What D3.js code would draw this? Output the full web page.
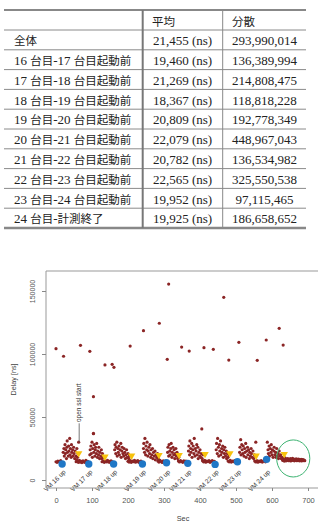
<!DOCTYPE html>
<html>
<head>
<meta charset="utf-8">
<script src="https://cdn.jsdelivr.net/npm/d3@7"></script>
<style>
  body { margin: 0; background: #fff; }
  text { white-space: pre; }
</style>
</head>
<body>
<script>
// table values
const colHeads = ["平均", "分散"];
const rowLabels = ["全体", "16 台目-17 台目起動前", "17 台目-18 台目起動前", "18 台目-19 台目起動前",
    "19 台目-20 台目起動前", "20 台目-21 台目起動前", "21 台目-22 台目起動前", "22 台目-23 台目起動前",
    "23 台目-24 台目起動前", "24 台目-計測終了"];
const means = [21455, 19460, 21269, 18367, 20809, 22079, 20782, 22565, 19952, 19925];
const variances = [293990014, 136389994, 214808475, 118818228, 192778349, 448967043,
    136534982, 325550538, 97115465, 186658652];

// chart values: [sec, delay in thousands of ns]
const baseline = [[0,14.5],[3,14],[5,15],[8,14.6],[11,14.2],[13,15.3],
    [56,14.5],[59,15],[62,14],[65,15.5],[67,14.2],[70,14.8],[72,13.8],[75,15.2],[77,14.5],[80,14],[83,15.5],[85,14.3],[88,14.8],
    [128,14.5],[131,15.2],[134,14],[137,15],[140,14.4],[143,15.6],[146,14.2],[148,14.9],[151,13.9],[153,15.1],[156,14.5],[158,14],
    [200,14.8],[203,14.2],[206,15.4],[209,14],[212,15],[215,14.5],[218,15.6],[221,14.1],[224,14.8],[227,15.3],[230,14],[233,14.6],[236,15],
    [283,15],[286,14.2],[289,15.5],[292,14.6],[295,13.9],[298,15.2],[301,14.4],[304,15],
    [340,15],[343,14.3],[346,15.4],[349,14.7],[352,14],[355,15.2],[358,14.5],[361,15],[364,14.2],
    [407,15.2],[410,14.4],[413,15.6],[416,14.1],[419,15],[422,14.6],[425,15.4],[428,14],[431,14.8],[434,15.3],[437,14.3],[440,14.9],
    [478,15],[481,14.4],[484,15.5],[487,14.2],[490,15],[493,14.6],[496,15.3],[499,14],[502,14.8],
    [552,15],[555,14.3],[558,15.4],[561,14.1],[564,15],[567,14.6],[570,15.3],[573,14.2],[576,14.9],[579,15.5],[582,14.4]];
const bursts = [[20,22],[22,25],[23,19],[25,28],[26,21],[27,24],[29,17],[30,26],[31,31],[32,22],[34,19],[35,27],[36,23],[38,33],[39,20],[40,25],[42,18],[43,28],[44,22],[46,24],[47,19],[49,26],[50,21],[52,17],[53,23],[55,19],[57,16],[58,25],[60,18],[61,21],[63,30],
    [94,20],[95,24],[97,27],[98,21],[100,30],[101,18],[102,25],[104,37],[105,22],[106,28],[108,19],[109,24],[110,26],[112,21],[113,29],[115,18],[116,23],[118,20],[119,26],[121,17],[122,22],[124,19],[126,24],[127,17],[129,21],[131,18],
    [163,24],[164,28],[166,21],[167,26],[169,30],[170,19],[172,25],[173,22],[175,27],[176,20],[178,24],[180,29],[181,18],[183,23],[184,26],[186,21],[188,19],[189,25],[191,22],[193,17],[194,20],[196,24],[198,18],[200,21],[202,17],[204,19],
    [243,25],[244,29],[246,22],[247,33],[249,20],[250,27],[252,24],[253,30],[255,19],[256,23],[258,26],[260,21],[261,28],[263,18],[264,24],[266,20],[268,25],[269,17],[271,22],[273,19],[275,23],[276,16],[278,20],[280,18],[282,21],[284,17],
    [310,22],[311,26],[313,19],[314,28],[316,23],[317,20],[319,25],[320,29],[322,18],[323,22],[325,26],[327,20],[328,24],[330,17],[331,21],[333,25],[334,19],[336,22],[338,17],[339,20],[341,18],
    [368,23],[369,27],[371,20],[372,31],[374,25],[375,22],[377,29],[378,18],[380,24],[381,27],[383,21],[384,33],[386,19],[387,25],[389,23],[391,28],[392,20],[394,26],[395,17],[397,22],[399,19],[400,24],[402,18],[404,21],[406,17],[408,20],
    [445,24],[446,29],[448,21],[449,33],[451,26],[452,19],[454,28],[455,23],[457,31],[458,20],[460,25],[461,22],[463,27],[465,18],[466,24],[468,21],[469,26],[471,19],[473,23],[474,17],[476,21],[478,18],[480,20],
    [510,22],[511,26],[513,32],[514,20],[516,28],[517,24],[519,21],[520,27],[522,19],[524,25],[525,22],[527,29],[528,18],[530,23],[532,26],[533,20],[535,24],[537,17],[538,22],[540,19],[542,25],[543,21],[545,18],[547,23],[549,17],[551,20],[553,19],[555,30],
    [587,30],[589,24],[590,21],[592,27],[593,19],[595,25],[597,22],[598,28],[600,20],[601,24],[603,18],[605,23],[606,26],[608,20],[610,22],[611,18],[613,25],[615,19],[617,21],[618,17],[620,23],[622,19],[624,20],[626,17],[628,18],[630,16]];
const tail = [[628,17],[630,15.5],[632,16.5],[634,15],[636,17.5],[637,16],[639,15.2],[641,16.8],[642,15.6],[644,17],[646,15.3],[647,16.4],[649,15.8],[651,16.9],[652,15.1],[654,16.2],[656,15.5],[657,17.2],[659,15.9],[661,16.5],[662,15.2],[664,16.1],[666,15.6],[667,16.8],[669,15.3],[671,16.3],[672,15.7],[674,16.6],[676,15.2],[677,16],[679,15.5],[681,16.4],[682,15.1],[684,15.9],[686,16.2],[687,15.4],[689,15.8],[691,15.3]];
const outliers = [[0,104.2],[21,98.2],[68,106.9],[94,102.1],[104,66.1],[104,36.7],[136,91.3],[156,91.8],[161,89.4],[206,106.3],[243,118.5],[287,124.4],
    [313,155.5],[309,95.8],[349,105.5],[370,102.3],[405,40.5],[411,105],[437,103.7],[466,145],[480,95.2],[508,109.3],[559,95],[584,111.1],[620,120.4],[631,107.1]];

const vmUp = [17, 91, 160, 240, 307, 366, 442, 504, 585];
const vmUpDelay = [12.7, 12.7, 12.7, 12.7, 13.7, 13.2, 12.4, 14.5, 16.4];
const vmLabels = ["VM 16 up", "VM 17 up", "VM 18 up", "VM 19 up", "VM 20 up", "VM 21 up", "VM 22 up", "VM 23 up", "VM 24 up"];
const sslStart = [63, 136, 210, 286, 342, 414, 483, 556, 634];
const sslDelay = [21.2, 18.5, 19.3, 19.8, 19.8, 20.6, 21.2, 19.3, 20.6];

const xTicks = [0, 100, 200, 300, 400, 500, 600, 700];
const yTicks = [0, 50000, 100000, 150000];

const svg = d3.select("body").append("svg")
    .attr("width", 318).attr("height", 521);

// ---------- table ----------
const isCJK = s => /[\u3000-\u9fff]/.test(s);
function mixedText(sel, str) {
    str.split(/([\u3000-\u9fff]+)/).filter(s => s).forEach(s => {
        sel.append("tspan")
            .attr("font-family", isCJK(s) ? "'Noto Sans CJK JP'" : "'Liberation Serif'")
            .attr("font-size", isCJK(s) ? "11.5px" : "13px")
            .text(s);
    });
}

const tTop = 10, headH = 20, rowH = 19.8;
const tLeft = 4, tRight = 306, col1 = 142.7, col2 = 222.7;
const tBottom = tTop + headH + rowH * rowLabels.length;
const table = svg.append("g").attr("fill", "#222");

table.append("line").attr("x1", tLeft).attr("x2", tRight).attr("y1", tTop).attr("y2", tTop)
    .attr("stroke", "#888").attr("stroke-width", 2);
table.append("line").attr("x1", tLeft).attr("x2", tRight).attr("y1", tBottom).attr("y2", tBottom)
    .attr("stroke", "#888").attr("stroke-width", 2.4);
rowLabels.forEach((r, i) => {
    const yy = tTop + headH + rowH * i;
    table.append("line").attr("x1", tLeft).attr("x2", tRight).attr("y1", yy).attr("y2", yy)
        .attr("stroke", "#8a8a8a").attr("stroke-width", 1);
});
table.append("line").attr("x1", col1).attr("x2", col1).attr("y1", tTop).attr("y2", tBottom)
    .attr("stroke", "#777").attr("stroke-width", 2);
table.append("line").attr("x1", col2).attr("x2", col2).attr("y1", tTop).attr("y2", tBottom)
    .attr("stroke", "#888").attr("stroke-width", 1);

table.append("text").attr("x", 152).attr("y", tTop + 15.5).call(mixedText, colHeads[0]);
table.append("text").attr("x", 232).attr("y", tTop + 15.5).call(mixedText, colHeads[1]);

const fmt = d3.format(",");
rowLabels.forEach((r, i) => {
    const base = tTop + headH + rowH * i + 15.2;
    table.append("text").attr("x", 14).attr("y", base).call(mixedText, r);
    table.append("text").attr("x", 182.5).attr("y", base).attr("text-anchor", "middle")
        .call(mixedText, fmt(means[i]) + " (ns)");
    table.append("text").attr("x", 264.5).attr("y", base).attr("text-anchor", "middle")
        .call(mixedText, fmt(variances[i]));
});

// ---------- scatter ----------
const x = d3.scaleLinear().domain([0, 700]).range([56, 308]);
const y = d3.scaleLinear().domain([0, 150000]).range([480, 291]);
const pLeft = 46, pTop = 271, pBottom = 488;

const chart = svg.append("g").attr("font-family", "'Liberation Sans', Arial, sans-serif");

const pts = baseline.concat(bursts, tail, outliers);
chart.append("g").selectAll("circle")
    .data(pts)
    .join("circle")
    .attr("cx", d => x(d[0]))
    .attr("cy", d => y(d[1] * 1000))
    .attr("r", 1.6)
    .attr("fill", "#8b2525");

chart.append("g").selectAll("circle")
    .data(vmUp)
    .join("circle")
    .attr("cx", d => x(d))
    .attr("cy", (d, i) => y(vmUpDelay[i] * 1000))
    .attr("r", 3.7)
    .attr("fill", "#1f77c6");

chart.append("g").selectAll("path")
    .data(sslStart)
    .join("path")
    .attr("d", d3.symbol(d3.symbolTriangle, 24))
    .attr("transform", (d, i) => `translate(${x(d)},${y(sslDelay[i] * 1000)}) rotate(180)`)
    .attr("fill", "#f7c20c");

// open ssl start marker
chart.append("line")
    .attr("x1", x(sslStart[0]) + 0.5).attr("x2", x(sslStart[0]) + 0.5)
    .attr("y1", y(30000)).attr("y2", y(45000))
    .attr("stroke", "#555").attr("stroke-width", 0.8);
chart.append("text")
    .attr("transform", `translate(${x(sslStart[0]) + 2.7},${y(46000)}) rotate(-90)`)
    .attr("font-size", "6.5px").attr("fill", "#333")
    .text("open ssl start");

chart.append("g").selectAll("text")
    .data(vmLabels)
    .join("text")
    .attr("transform", (d, i) => `translate(${x(vmUp[i]) + 4},${y(6000)}) rotate(-45)`)
    .attr("text-anchor", "end")
    .attr("font-size", "6.5px").attr("fill", "#333")
    .text(d => d);

chart.append("ellipse")
    .attr("cx", x(659)).attr("cy", y(17100))
    .attr("rx", x(659 + 46) - x(659)).attr("ry", y(0) - y(14700))
    .attr("fill", "none").attr("stroke", "#3cb371").attr("stroke-width", 1);

// frame
chart.append("path")
    .attr("d", `M318,${pTop}H${pLeft}V${pBottom}H318`)
    .attr("fill", "none").attr("stroke", "#999").attr("stroke-width", 1);

const xAxis = chart.append("g")
    .attr("transform", `translate(0,${pBottom})`)
    .call(d3.axisBottom(x).tickValues(xTicks).tickSize(3));
xAxis.select(".domain").remove();
xAxis.selectAll("line").attr("stroke", "#888");
xAxis.selectAll("text").attr("y", 15.4).attr("dy", 0)
    .attr("font-size", "7.5px").attr("font-family", "'Liberation Sans', Arial, sans-serif").attr("fill", "#555");

const yAxis = chart.append("g")
    .attr("transform", `translate(${pLeft},0)`)
    .call(d3.axisLeft(y).tickValues(yTicks).tickSize(4).tickFormat(d3.format("d")));
yAxis.select(".domain").remove();
yAxis.selectAll("line").attr("stroke", "#888");
yAxis.selectAll("text")
    .attr("x", 0).attr("dy", 0)
    .attr("text-anchor", "middle")
    .attr("transform", "translate(-11,0) rotate(-90)")
    .attr("font-size", "7px").attr("font-family", "'Liberation Sans', Arial, sans-serif").attr("fill", "#555");

chart.append("text")
    .attr("x", 183).attr("y", 520.5)
    .attr("text-anchor", "middle")
    .attr("font-size", "7.3px").attr("fill", "#444")
    .text("Sec");

chart.append("text")
    .attr("transform", `translate(16,${(pTop + pBottom) / 2}) rotate(-90)`)
    .attr("text-anchor", "middle")
    .attr("font-size", "7.2px").attr("fill", "#444")
    .text("Delay [ns]");
</script>
</body>
</html>
